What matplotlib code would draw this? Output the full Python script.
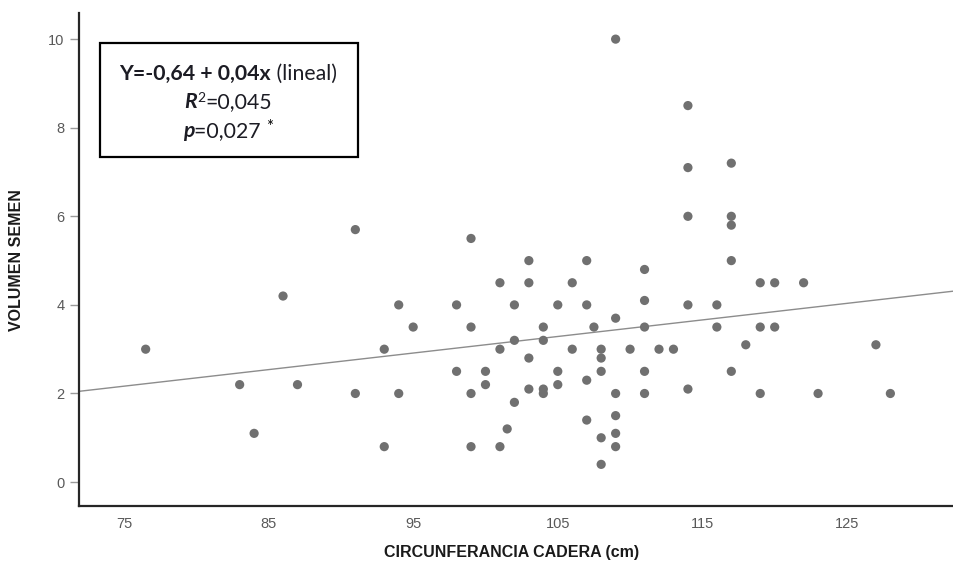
import numpy as np
import matplotlib
matplotlib.use("Agg")
import matplotlib.pyplot as plt
from matplotlib.patches import Rectangle

# data
cadera = [76.5, 83, 84, 86, 87, 91, 91, 93, 93, 94, 94, 95,
          98, 98, 99, 99, 99, 99,
          100, 100, 101, 101, 101, 101.5,
          102, 102, 102,
          103, 103, 103, 103,
          104, 104, 104, 104,
          105, 105, 105,
          106, 106,
          107, 107, 107, 107, 107.5,
          108, 108, 108, 108, 108,
          109, 109, 109, 109, 109, 109,
          110,
          111, 111, 111, 111, 111,
          112, 113,
          114, 114, 114, 114, 114,
          116, 116,
          117, 117, 117, 117, 117,
          118,
          119, 119, 119,
          120, 120,
          122, 123, 127, 128]
volumen = [3.0, 2.2, 1.1, 4.2, 2.2, 2.0, 5.7, 3.0, 0.8, 4.0, 2.0, 3.5,
           4.0, 2.5, 5.5, 3.5, 2.0, 0.8,
           2.5, 2.2, 4.5, 3.0, 0.8, 1.2,
           4.0, 3.2, 1.8,
           5.0, 4.5, 2.8, 2.1,
           3.5, 3.2, 2.1, 2.0,
           4.0, 2.5, 2.2,
           4.5, 3.0,
           5.0, 4.0, 2.3, 1.4, 3.5,
           3.0, 2.8, 2.5, 1.0, 0.4,
           10.0, 3.7, 2.0, 1.5, 1.1, 0.8,
           3.0,
           4.8, 4.1, 3.5, 2.5, 2.0,
           3.0, 3.0,
           8.5, 7.1, 6.0, 4.0, 2.1,
           4.0, 3.5,
           7.2, 6.0, 5.8, 5.0, 2.5,
           3.1,
           4.5, 3.5, 2.0,
           4.5, 3.5,
           4.5, 2.0, 3.1, 2.0]

# fitted line (as drawn)
intercepto = -0.64
pendiente = 0.0374

x_ticks = [75, 85, 95, 105, 115, 125]
y_ticks = [0, 2, 4, 6, 8, 10]

W, H = 954, 568
fig = plt.figure(figsize=(W / 100, H / 100), dpi=100)
ax = fig.add_axes([79 / W, 1 - 506 / H, (W - 79) / W, (506 - 13) / H])

xlim = (71.89, 132.4)
ax.set_xlim(*xlim)
ax.set_ylim(-0.54, 10.59)

ax.scatter(cadera, volumen, s=44, color="#707070", edgecolors="none", zorder=3)
xs = np.array(xlim)
ax.plot(xs, intercepto + pendiente * xs, color="#8c8c8c", lw=1.0, zorder=2)

for side in ["top", "right"]:
    ax.spines[side].set_visible(False)
for side in ["left", "bottom"]:
    ax.spines[side].set_color("#262626")
    ax.spines[side].set_linewidth(1.6)

ax.set_xticks(x_ticks)
ax.set_yticks(y_ticks)
ax.tick_params(axis="x", length=0, pad=8, labelsize=10.5, labelcolor="#595959")
ax.tick_params(axis="y", length=6.5, width=1, color="#9a9a9a", pad=4,
               labelsize=10.5, labelcolor="#595959")
for lab in ax.get_xticklabels() + ax.get_yticklabels():
    lab.set_family("Liberation Sans")

fig.text(512 / W, 1 - 553 / H, "CIRCUNFERANCIA CADERA (cm)", ha="center", va="center",
         fontsize=11.5, fontweight="bold", family="Liberation Sans", color="#1a1a1a")
fig.text(17 / W, 1 - 260 / H, "VOLUMEN SEMEN", ha="center", va="center", rotation=90,
         fontsize=11.5, fontweight="bold", family="Liberation Sans", color="#1a1a1a")

# box with the regression summary
fig.patches.append(Rectangle((100 / W, 1 - 157.3 / H), 257.7 / W, 114 / H,
                             transform=fig.transFigure, fill=False,
                             edgecolor="black", lw=1.6))

renderer = fig.canvas.get_renderer()


def put_runs(runs, xc, ybase, size=15.3):
    texts = []
    for s, kw in runs:
        opts = dict(fontsize=size, family="Lato", color="#1c1c24", va="baseline", ha="left")
        opts.update(kw)
        texts.append(fig.text(0, 0, s, **opts))
    widths = [t.get_window_extent(renderer).width for t in texts]
    x = xc - sum(widths) / 2
    for t, w in zip(texts, widths):
        t.set_position((x / W, 1 - ybase / H))
        x += w
    return texts


put_runs([("Y=-0,64 + 0,04x", dict(fontweight="bold")),
          (" (lineal)", {})], 228, 80)
t2 = put_runs([("R", dict(fontweight="bold", style="italic")),
               ("2", dict(fontsize=10)),
               ("=0,045", {})], 228, 108.5)
x2, y2 = t2[1].get_position()
t2[1].set_position((x2, y2 + 6 / H))
t3 = put_runs([("p", dict(fontweight="bold", style="italic")),
               ("=0,027 ", {}),
               ("*", dict(fontsize=12, color="black"))], 228, 137)
# raise the asterisk a little
x3, y3 = t3[-1].get_position()
t3[-1].set_position((x3, y3 + 5 / H))

fig.savefig("out.png", dpi=100)
